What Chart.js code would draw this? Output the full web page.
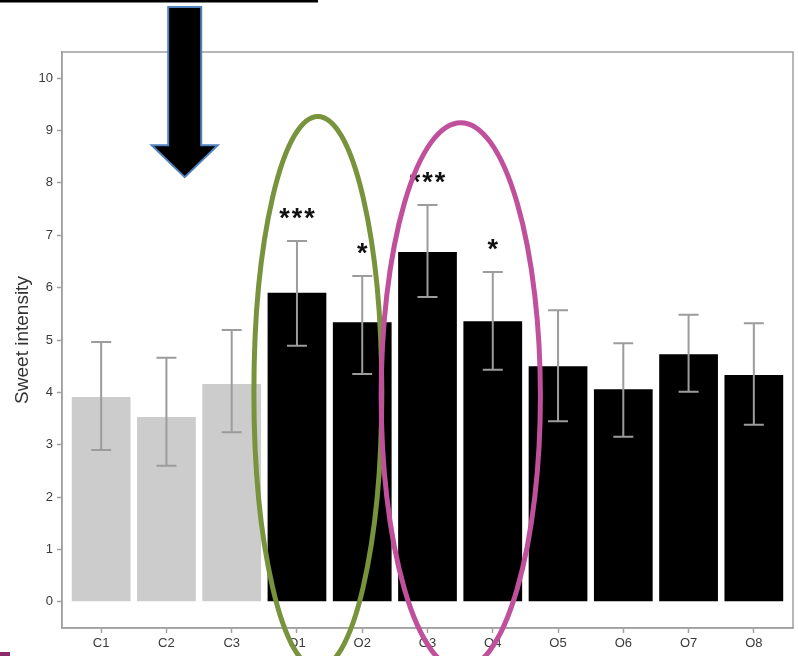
<!DOCTYPE html>
<html><head><meta charset="utf-8">
<script src="https://cdn.jsdelivr.net/npm/chart.js@4.4.1/dist/chart.umd.min.js"></script>
<style>html,body{margin:0;padding:0;background:#fff}#wrap{width:798px;height:656px}</style>
</head><body><div id="wrap"><canvas id="c" width="798" height="656"></canvas></div>
<script>
const categories = ['C1','C2','C3','O1','O2','O3','O4','O5','O6','O7','O8'];
const meanValues = [3.91,3.53,4.16,5.90,5.34,6.68,5.36,4.50,4.06,4.73,4.33];
const upperValues = [4.96,4.66,5.19,6.89,6.22,7.58,6.30,5.57,4.94,5.48,5.32];
const lowerValues = [2.90,2.60,3.24,4.89,4.35,5.82,4.43,3.45,3.15,4.01,3.38];
const significance = ['','','','***','*','***','*','','','',''];
const yTickValues = [0,1,2,3,4,5,6,7,8,9,10];
const yTitle = 'Sweet intensity';

const FONT = "'Liberation Sans', Arial, sans-serif";
const AXIS_GREY = '#a0a0a0';

const errorBarPlugin = {
  id: 'errorBars',
  afterDatasetsDraw(chart) {
    const {ctx, scales: {x, y}} = chart;
    ctx.save();
    ctx.strokeStyle = '#9c9c9c';
    ctx.lineWidth = 2;
    categories.forEach((c, i) => {
      const px = x.getPixelForValue(i + 1);
      const yt = y.getPixelForValue(upperValues[i]);
      const yb = y.getPixelForValue(lowerValues[i]);
      ctx.beginPath();
      ctx.moveTo(px, yt); ctx.lineTo(px, yb);
      ctx.moveTo(px - 10, yt); ctx.lineTo(px + 10, yt);
      ctx.moveTo(px - 10, yb); ctx.lineTo(px + 10, yb);
      ctx.stroke();
    });
    ctx.fillStyle = '#111';
    ctx.font = 'bold 27px ' + FONT;
    ctx.textAlign = 'center';
    ctx.textBaseline = 'alphabetic';
    significance.forEach((s, i) => {
      if (!s) return;
      const px = x.getPixelForValue(i + 1);
      const py = y.getPixelForValue(upperValues[i] + 0.57);
      const n = s.length;
      for (let k = 0; k < n; k++) {
        const off = (k - (n - 1) / 2) * 12.5;
        ctx.fillText('*', px + off, py + 15.5);
      }
    });
    ctx.restore();
  }
};

const framePlugin = {
  id: 'frame',
  beforeDatasetsDraw(chart) {
    const {ctx, chartArea: a} = chart;
    ctx.save();
    ctx.strokeStyle = AXIS_GREY;
    ctx.lineWidth = 1.5;
    ctx.strokeRect(a.left, a.top, a.right - a.left, a.bottom - a.top);
    ctx.restore();
  }
};

const annotationPlugin = {
  id: 'annot',
  afterDraw(chart) {
    const {ctx, scales: {x, y}} = chart;
    ctx.save();
    const ell = [
      {cx: 4.32, cy: 4.00, rx: 0.98, ry: 5.27, color: '#77933C'},
      {cx: 6.51, cy: 3.93, rx: 1.22, ry: 5.22, color: '#C0509C'}
    ];
    ell.forEach(e => {
      const cx = x.getPixelForValue(e.cx), cy = y.getPixelForValue(e.cy);
      const rx = x.getPixelForValue(e.cx + e.rx) - cx;
      const ry = cy - y.getPixelForValue(e.cy + e.ry);
      ctx.beginPath();
      ctx.ellipse(cx, cy, rx, ry, 0, 0, Math.PI * 2);
      ctx.strokeStyle = e.color;
      ctx.lineWidth = 5;
      ctx.stroke();
    });
    const ax = x.getPixelForValue(2.28);
    const top = y.getPixelForValue(11.36), neck = y.getPixelForValue(8.72), tip = y.getPixelForValue(8.11);
    ctx.beginPath();
    ctx.moveTo(ax - 16.5, top);
    ctx.lineTo(ax + 16.5, top);
    ctx.lineTo(ax + 16.5, neck);
    ctx.lineTo(ax + 33, neck);
    ctx.lineTo(ax, tip);
    ctx.lineTo(ax - 33, neck);
    ctx.lineTo(ax - 16.5, neck);
    ctx.closePath();
    ctx.fillStyle = '#000';
    ctx.fill();
    ctx.strokeStyle = '#4F81BD';
    ctx.lineWidth = 2;
    ctx.stroke();
    ctx.fillStyle = '#000';
    ctx.fillRect(0, 0, 318, 2.5);
    ctx.fillStyle = '#8B2B6E';
    ctx.fillRect(0, 652, 10, 4);
    ctx.restore();
  }
};

new Chart(document.getElementById('c'), {
  type: 'bar',
  data: {
    datasets: [{
      data: categories.map((c, i) => ({x: i + 1, y: meanValues[i]})),
      backgroundColor: categories.map(c => c.startsWith('C') ? '#cccccc' : '#000000'),
      borderWidth: 0,
      categoryPercentage: 1,
      barPercentage: 0.9
    }]
  },
  options: {
    responsive: false,
    devicePixelRatio: 1,
    animation: false,
    layout: {padding: {left: 0, top: 52, right: 5, bottom: 0}},
    plugins: {legend: {display: false}, tooltip: {enabled: false}},
    scales: {
      x: {
        type: 'linear',
        offset: false,
        min: 0.4, max: 11.6,
        afterBuildTicks: s => { s.ticks = categories.map((c, i) => ({value: i + 1})); },
        afterFit: s => { s.height = 28; },
        ticks: {
          autoSkip: false, maxRotation: 0, padding: 3,
          color: '#3a3a3a', font: {family: FONT, size: 13},
          callback: v => categories[v - 1]
        },
        grid: {offset: false, drawOnChartArea: false, drawTicks: true, tickLength: 5, tickColor: AXIS_GREY, tickWidth: 1.5},
        border: {display: true, color: AXIS_GREY, width: 1.5}
      },
      y: {
        min: -0.5, max: 10.5,
        afterBuildTicks: s => { s.ticks = yTickValues.map(v => ({value: v})); },
        afterFit: s => { s.width = 62; },
        ticks: {padding: 4, color: '#3a3a3a', font: {family: FONT, size: 13}},
        grid: {drawOnChartArea: false, drawTicks: true, tickLength: 5, tickColor: AXIS_GREY, tickWidth: 1.5},
        border: {display: true, color: AXIS_GREY, width: 1.5},
        title: {display: true, text: yTitle, color: '#333', font: {family: FONT, size: 19}, padding: {top: 11, bottom: 0}}
      }
    }
  },
  plugins: [framePlugin, errorBarPlugin, annotationPlugin]
});
</script></body></html>
